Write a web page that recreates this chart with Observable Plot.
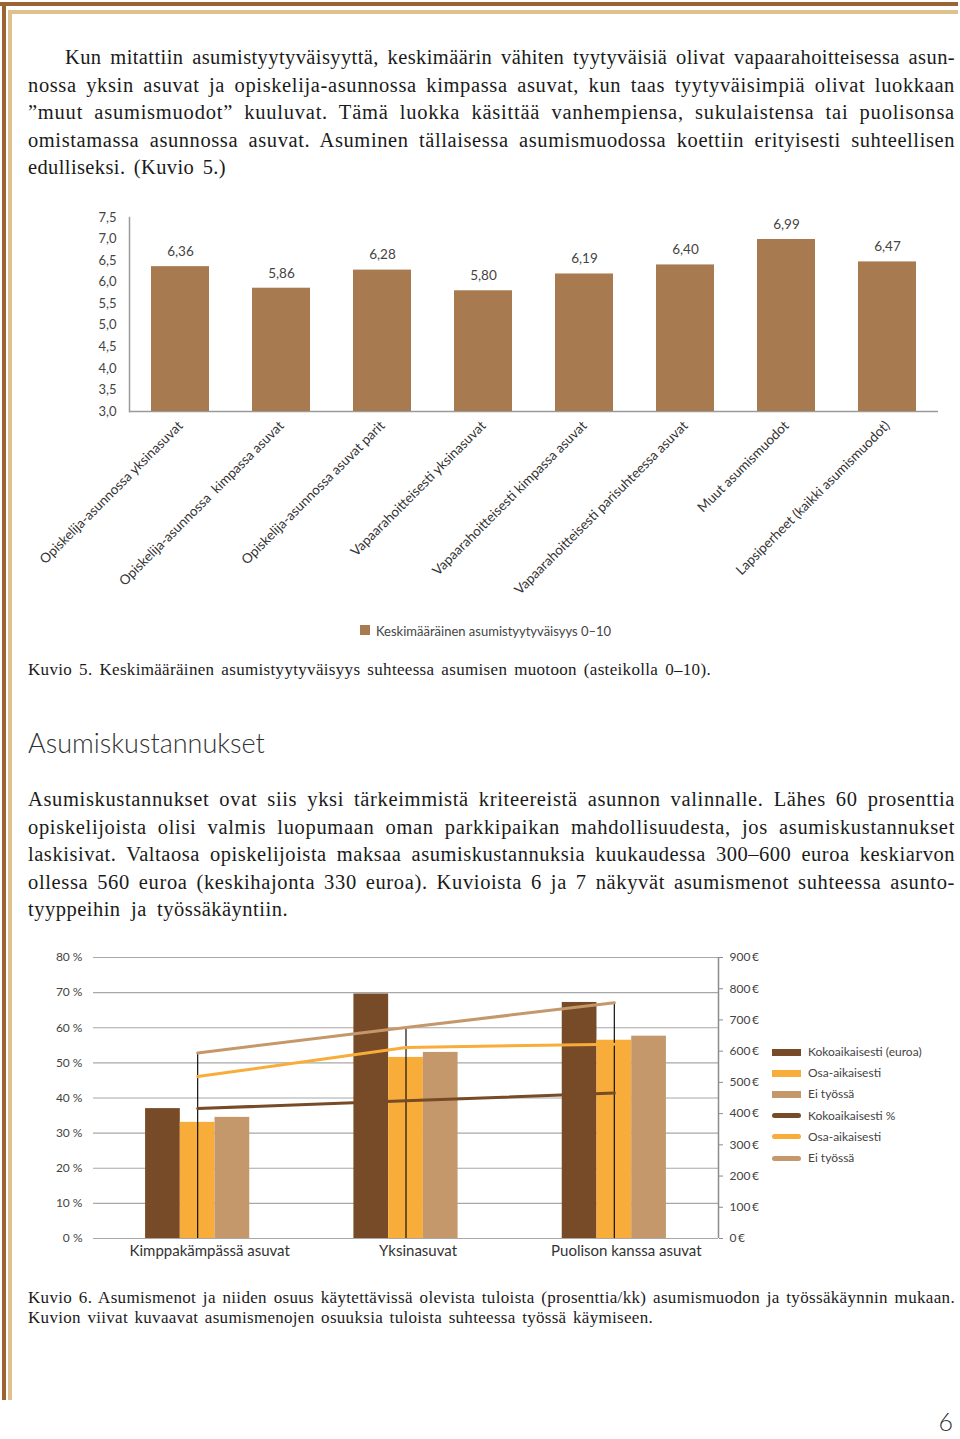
<!DOCTYPE html>
<html><head><meta charset="utf-8">
<script src="https://cdn.jsdelivr.net/npm/d3@7"></script>
<script src="https://cdn.jsdelivr.net/npm/@observablehq/plot@0.6"></script>
<style>
body{margin:0;background:#fff;}
#page{position:relative;width:960px;height:1439px;overflow:hidden;font-family:"Liberation Serif","DejaVu Serif",serif;color:#1a1a1a;}
.abs{position:absolute;}
.para{font-size:20.5px;line-height:27.5px;}
.ln{white-space:nowrap;display:block;}
.ln span{white-space:nowrap;}
.cap{font-size:17px;line-height:19.5px;}
.sans{font-family:Lato,"Open Sans",sans-serif;}
.lg{position:absolute;font-family:Lato,sans-serif;font-size:12px;color:#444;}
.lg .it{position:absolute;left:0;height:21px;white-space:nowrap;}
.lg .sw{position:absolute;left:0;width:29px;}
.lg .tx{position:absolute;left:36px;top:-8px;line-height:16px;}
</style></head>
<body><div id="page">
<div class="abs" style="left:0;top:2px;width:958px;height:4px;background:#9b6332"></div>
<div class="abs" style="left:8px;top:10px;width:950px;height:4px;background:#dfc08f"></div>
<div class="abs" style="left:2px;top:2px;width:4px;height:1398px;background:#9b6332"></div>
<div class="abs" style="left:8px;top:10px;width:4px;height:1390px;background:#dfc08f"></div>

<div class="abs para" id="p1" style="left:28px;top:44px;width:927px;">
<div class="ln j" style="margin-left:37px;width:890px"><span>Kun mitattiin asumistyytyväisyyttä, keskimäärin vähiten tyytyväisiä olivat vapaarahoitteisessa asun-</span></div>
<div class="ln j" style="width:927px"><span>nossa yksin asuvat ja opiskelija-asunnossa kimpassa asuvat, kun taas tyytyväisimpiä olivat luokkaan</span></div>
<div class="ln j" style="width:927px"><span>”muut asumismuodot” kuuluvat. Tämä luokka käsittää vanhempiensa, sukulaistensa tai puolisonsa</span></div>
<div class="ln j" style="width:927px"><span>omistamassa asunnossa asuvat. Asuminen tällaisessa asumismuodossa koettiin erityisesti suhteellisen</span></div>
<div class="ln j" style="width:198px"><span>edulliseksi. (Kuvio 5.)</span></div>
</div>

<div class="abs" id="chart1" style="left:0;top:200px;width:960px;"></div>
<div class="abs sans" style="left:360px;top:625px;width:10px;height:10px;background:#a77b4f"></div>
<div class="abs sans" style="left:376px;top:622px;font-size:13px;line-height:18px;color:#444">Keskimääräinen asumistyytyväisyys 0–10</div>

<div class="abs cap" style="left:28px;top:660px;">
<div class="ln j" style="width:683px"><span>Kuvio 5. Keskimääräinen asumistyytyväisyys suhteessa asumisen muotoon (asteikolla 0–10).</span></div>
</div>

<div class="abs sans" style="left:28px;top:727px;font-size:27px;line-height:32px;font-weight:300;color:#333">Asumiskustannukset</div>

<div class="abs para" style="left:28px;top:786px;width:927px;">
<div class="ln j" style="width:927px"><span>Asumiskustannukset ovat siis yksi tärkeimmistä kriteereistä asunnon valinnalle. Lähes 60 prosenttia</span></div>
<div class="ln j" style="width:927px"><span>opiskelijoista olisi valmis luopumaan oman parkkipaikan mahdollisuudesta, jos asumiskustannukset</span></div>
<div class="ln j" style="width:927px"><span>laskisivat. Valtaosa opiskelijoista maksaa asumiskustannuksia kuukaudessa 300–600 euroa keskiarvon</span></div>
<div class="ln j" style="width:927px"><span>ollessa 560 euroa (keskihajonta 330 euroa). Kuvioista 6 ja 7 näkyvät asumismenot suhteessa asunto-</span></div>
<div class="ln j" style="width:260px"><span>tyyppeihin ja työssäkäyntiin.</span></div>
</div>

<div class="abs" id="chart2" style="left:0;top:940px;width:960px;"></div>
<div class="lg" id="legend2" style="left:772px;top:1052px;"></div>

<div class="abs cap" style="left:28px;top:1288px;width:927px;">
<div class="ln j" style="width:927px"><span>Kuvio 6. Asumismenot ja niiden osuus käytettävissä olevista tuloista (prosenttia/kk) asumismuodon ja työssäkäynnin mukaan.</span></div>
<div class="ln j" style="width:625px"><span>Kuvion viivat kuvaavat asumismenojen osuuksia tuloista suhteessa työssä käymiseen.</span></div>
</div>

<div class="abs sans" style="right:7px;top:1406px;font-size:25px;line-height:30px;font-weight:300;color:#333">6</div>
</div>

<script>
// ---------- Kuvio 5 data ----------
const k5Categories = [
  "Opiskelija-asunnossa yksinasuvat",
  "Opiskelija-asunnossa  kimpassa asuvat",
  "Opiskelija-asunnossa asuvat parit",
  "Vapaarahoitteisesti yksinasuvat",
  "Vapaarahoitteisesti kimpassa asuvat",
  "Vapaarahoitteisesti parisuhteessa asuvat",
  "Muut asumismuodot",
  "Lapsiperheet (kaikki asumismuodot)"
];
const k5Values = [6.36, 5.86, 6.28, 5.80, 6.19, 6.40, 6.99, 6.47];
const k5Ticks = [3.0, 3.5, 4.0, 4.5, 5.0, 5.5, 6.0, 6.5, 7.0, 7.5];

// ---------- Kuvio 6 data ----------
const k6Groups = ["Kimppakämpässä asuvat", "Yksinasuvat", "Puolison kanssa asuvat"];
const k6Series = ["Kokoaikaisesti", "Osa-aikaisesti", "Ei työssä"];
const costKokoaikaisesti = [416, 783, 756];   // euroa
const costOsaAikaisesti = [372, 580, 635];
const costEiTyossa = [388, 596, 648];
const shareKokoaikaisesti = [37.0, 39.2, 41.4]; // %
const shareOsaAikaisesti = [46.1, 54.4, 55.3];
const shareEiTyossa = [52.8, 60.1, 67.1];
const pctTicks = [0, 10, 20, 30, 40, 50, 60, 70, 80];
const eurTicks = [0, 100, 200, 300, 400, 500, 600, 700, 800, 900];
const legendLabels = ["Kokoaikaisesti (euroa)", "Osa-aikaisesti", "Ei työssä", "Kokoaikaisesti %", "Osa-aikaisesti", "Ei työssä"];

const barColor1 = "#a77b4f";
const seriesColors = ["#774b27", "#f8ad3b", "#c4986a"];

const comma = (v, n) => v.toFixed(n).replace(".", ",");

// ---------- Chart 1 ----------
const d1 = k5Categories.map((c, i) => ({cat: c, value: k5Values[i]}));
const yMin1 = k5Ticks[0];
const chart1 = Plot.plot({
  width: 960, height: 415,
  marginLeft: 129, marginRight: 22, marginTop: 17, marginBottom: 204,
  style: {fontFamily: "Lato, 'Open Sans', sans-serif", fontSize: "13px", color: "#444", background: "transparent"},
  x: {domain: k5Categories, paddingInner: 0.43, paddingOuter: 0.215, label: null},
  y: {domain: [k5Ticks[0], k5Ticks[k5Ticks.length - 1]], label: null},
  marks: [
    Plot.ruleY([yMin1], {stroke: "#9a9a9a", strokeWidth: 1.5}),
    Plot.frame({anchor: "left", stroke: "#9a9a9a", strokeWidth: 1.5}),
    Plot.barY(d1, {x: "cat", y1: yMin1, y2: "value", fill: barColor1}),
    Plot.text(d1, {x: "cat", y: "value", text: d => comma(d.value, 2), dy: -15, fill: "#444", fontSize: 13.5}),
    Plot.axisY({ticks: k5Ticks, tickFormat: d => comma(d, 1), tickSize: 0, tickPadding: 13, fill: "#444", fontSize: 13, label: null}),
    Plot.axisX({tickRotate: -45, tickSize: 0, tickPadding: 12, fill: "#333", fontSize: 13.5, label: null})
  ]
});
document.getElementById("chart1").append(chart1);

// ---------- Chart 2 ----------
const costs = [costKokoaikaisesti, costOsaAikaisesti, costEiTyossa];
const shares = [shareKokoaikaisesti, shareOsaAikaisesti, shareEiTyossa];
const eurMax = eurTicks[eurTicks.length - 1];
const pctMax = pctTicks[pctTicks.length - 1];
const eurToPct = e => e * pctMax / eurMax;
const groupIdx = k6Groups.map((g, i) => i);

const barMarks = costs.map((arr, j) =>
  Plot.rectY(groupIdx, {
    x1: i => i + 0.25 + j / 6,
    x2: i => i + 0.25 + (j + 1) / 6,
    y1: 0,
    y2: i => eurToPct(arr[i]),
    fill: seriesColors[j]
  })
);
const lineMarks = shares.map((arr, j) =>
  Plot.line(groupIdx, {x: i => i + 0.5, y: i => arr[i], stroke: seriesColors[j], strokeWidth: 3})
);

const chart2 = Plot.plot({
  width: 960, height: 325,
  marginLeft: 93, marginRight: 242, marginTop: 17, marginBottom: 27,
  style: {fontFamily: "Lato, 'Open Sans', sans-serif", fontSize: "12px", color: "#444", background: "transparent"},
  x: {domain: [0, k6Groups.length], label: null},
  y: {domain: [0, pctMax], label: null},
  marks: [
    Plot.ruleY(pctTicks, {stroke: "#a8a8a8", strokeWidth: 1.2}),
    ...barMarks,
    Plot.ruleX(groupIdx, {x: i => i + 0.5, y1: 0, y2: i => Math.max(shares[0][i], shares[1][i], shares[2][i]), stroke: "#111", strokeWidth: 1.2}),
    ...lineMarks,
    Plot.ruleX([k6Groups.length], {stroke: "#8c8c8c", strokeWidth: 1.5}),
    Plot.axisY({anchor: "left", ticks: pctTicks, tickFormat: d => d + " %", tickSize: 0, tickPadding: 11, fill: "#444", fontSize: 12, label: null}),
    Plot.axisY({anchor: "right", ticks: eurTicks.map(eurToPct), tickFormat: d => Math.round(d * eurMax / pctMax) + "\u2009€", tickSize: 4, tickPadding: 7, stroke: "#8c8c8c", fill: "#444", fontSize: 12, label: null}),
    Plot.axisX({ticks: groupIdx.map(i => i + 0.5), tickFormat: d => k6Groups[Math.floor(d)], tickSize: 0, tickPadding: 7, dx: 12, fill: "#333", fontSize: 15, label: null})
  ]
});
document.getElementById("chart2").append(chart2);

// ---------- Legend 2 ----------
const lg = document.getElementById("legend2");
legendLabels.forEach((t, k) => {
  const it = document.createElement("div");
  it.className = "it";
  it.style.top = (k * 21.2) + "px";
  const sw = document.createElement("div");
  sw.className = "sw";
  const c = seriesColors[k % 3];
  if (k < 3) { sw.style.top = "-3.5px"; sw.style.height = "7px"; sw.style.background = c; }
  else { sw.style.top = "-2.5px"; sw.style.height = "5px"; sw.style.borderRadius = "3px"; sw.style.background = c; }
  const tx = document.createElement("div");
  tx.className = "tx";
  tx.textContent = t;
  it.append(sw, tx);
  lg.append(it);
});

// ---------- Fit lines to the reference widths (letter + word spacing) ----------
document.querySelectorAll(".ln.j").forEach(el => {
  const span = el.querySelector("span");
  const W = parseFloat(el.style.width);
  const text = span.textContent;
  const chars = text.length;
  const n = (text.match(/ /g) || []).length;
  let w = span.getBoundingClientRect().width;
  const extra = W - w;
  const ls = extra > 0 ? Math.min(extra * 0.6 / chars, 0.9) : extra / chars;
  span.style.letterSpacing = ls + "px";
  w = span.getBoundingClientRect().width;
  if (n > 0) span.style.wordSpacing = ((W - w) / n) + "px";
  else span.style.letterSpacing = (ls + (W - w) / chars) + "px";
});
</script>
</body></html>
